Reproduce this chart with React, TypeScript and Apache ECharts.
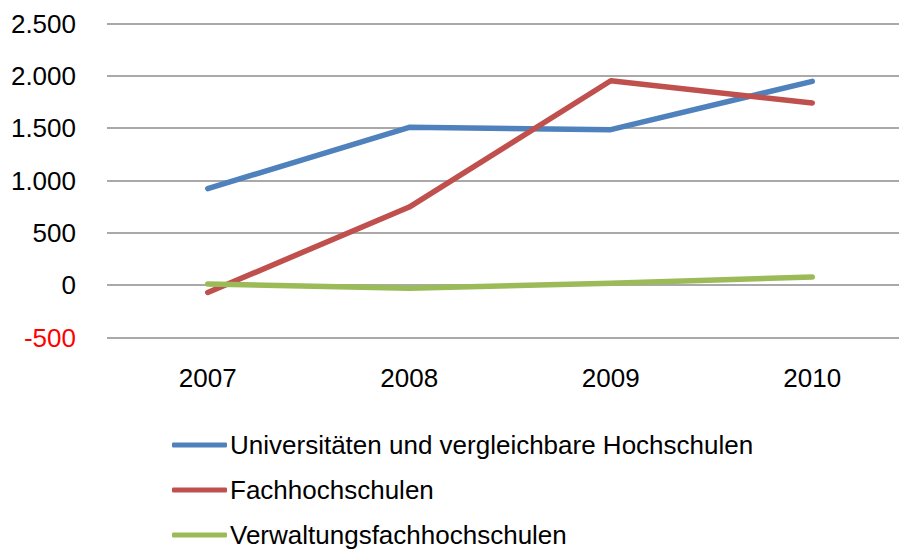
import React, { useEffect, useRef } from "react";
import * as echarts from "echarts";

const categories = ["2007", "2008", "2009", "2010"];
const universitaeten = [923, 1508, 1486, 1947];
const fachhochschulen = [-70, 746, 1953, 1740];
const verwaltung = [12, -29, 19, 79];
const seriesNames = [
  "Universitäten und vergleichbare Hochschulen",
  "Fachhochschulen",
  "Verwaltungsfachhochschulen",
];
const colors = ["#4F81BD", "#C0504D", "#9BBB59"];

const fmt = (v: number) => {
  const s = Math.abs(v).toString().replace(/\B(?=(\d{3})+(?!\d))/g, ".");
  return (v < 0 ? "-" : "") + s;
};

export default function App() {
  const ref = useRef<HTMLDivElement>(null);
  useEffect(() => {
    if (!ref.current) return;
    const chart = echarts.init(ref.current, undefined, { renderer: "svg" });
    const font = "Liberation Sans, Arial, sans-serif";
    const data = [universitaeten, fachhochschulen, verwaltung];
    chart.setOption({
      animation: false,
      textStyle: { fontFamily: font },
      grid: { left: 107, top: 23.5, width: 806, height: 314, containLabel: false },
      legend: {
        orient: "vertical",
        left: 167,
        top: 427,
        height: 140,
        width: 700,
        icon: "roundRect",
        itemWidth: 55,
        itemHeight: 5,
        itemGap: 19,
        textStyle: { fontSize: 26, color: "#000", fontFamily: font, padding: [0, 0, 0, -2] },
        data: seriesNames,
      },
      xAxis: {
        type: "category",
        data: categories,
        boundaryGap: true,
        axisLine: { show: false },
        axisTick: { show: false },
        axisLabel: { fontSize: 26, color: "#000", margin: 27, fontFamily: font },
      },
      yAxis: {
        type: "value",
        min: -500,
        max: 2500,
        interval: 500,
        axisLine: { show: false },
        axisTick: { show: false },
        splitLine: { lineStyle: { color: "#8c8c8c", width: 1.5 } },
        axisLabel: {
          fontSize: 26,
          margin: 31,
          fontFamily: font,
          formatter: (v: number) => fmt(v),
          color: (v: any) => (Number(v) < 0 ? "#FF0000" : "#000"),
        },
      },
      series: data.map((d, i) => ({
        name: seriesNames[i],
        type: "line",
        data: d,
        symbol: "none",
        color: colors[i],
        lineStyle: { width: 5.5, color: colors[i], cap: "round", join: "round" },
      })),
    });
    return () => chart.dispose();
  }, []);
  return (
    <div style={{ width: 899, height: 549, position: "absolute", left: 0, top: 0, overflow: "hidden" }}>
      <div ref={ref} style={{ width: 920, height: 549 }} />
    </div>
  );
}
